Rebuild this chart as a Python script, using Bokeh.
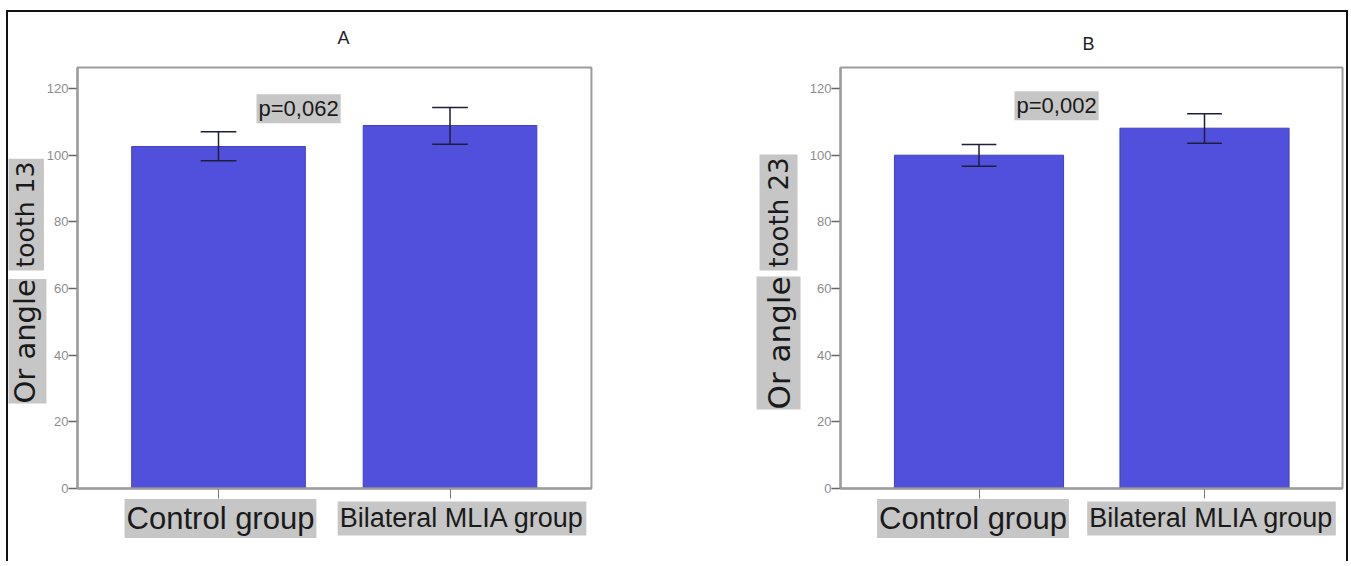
import math
from bokeh.plotting import figure
from bokeh.models import Range1d, FixedTicker, Label, LinearAxis, BoxAnnotation
from bokeh.layouts import row
from bokeh.embed import file_html
from bokeh.resources import INLINE

# ---- data ----
groups = ["Control group", "Bilateral MLIA group"]
panel_titles = ["A", "B"]
mean_13 = [102.6, 108.9]
lower_13 = [98.3, 103.3]
upper_13 = [107.0, 114.3]
mean_23 = [100.0, 108.1]
lower_23 = [96.7, 103.6]
upper_23 = [103.2, 112.4]
p_values = ["p=0,062", "p=0,002"]
y_ticks = [0, 20, 40, 60, 80, 100, 120]
ylab_big = ["Or angle", "Or angle"]
ylab_small = ["tooth 13", "tooth 23"]

BAR = "#5050dc"
BAR_LINE = "#4040c0"
ERR = "#1e1e3a"
GRAY_BOX = "#c6c6c6"
FONT = "Liberation Sans"
YFONT = "DejaVu Sans"
PX_PER_Y = 3.333   # pixels per y unit
Y_ZERO_PX = 476    # zero line, pixels from top of figure
FIG_H = 549


def make_panel(title, means, lows, ups, pval, big, small, cfg):
    xs = list(range(1, len(groups) + 1))
    ppx = cfg["ppx"]
    x0 = 1 - cfg["c1"] / ppx
    x1 = x0 + cfg["w"] / ppx
    y_top = Y_ZERO_PX / PX_PER_Y
    y_bot = -(FIG_H - Y_ZERO_PX) / PX_PER_Y
    p = figure(width=cfg["w"], height=FIG_H, output_backend="svg", toolbar_location=None,
               x_range=Range1d(x0, x1), y_range=Range1d(y_bot, y_top),
               x_axis_location=None, y_axis_location=None,
               min_border=0, min_border_left=0, min_border_right=0,
               min_border_top=0, min_border_bottom=0)
    p.xgrid.visible = False
    p.ygrid.visible = False
    p.outline_line_color = None
    p.background_fill_color = "white"
    p.border_fill_color = "white"

    box_l, box_r, box_t = cfg["box"]
    p.add_layout(BoxAnnotation(left=box_l, right=box_r, bottom=0, top=box_t,
                               fill_alpha=0, line_color="#9c9c9c", line_alpha=1, line_width=2))

    p.vbar(x=xs, top=means, bottom=0, width=0.75, fill_color=BAR, line_color=BAR_LINE, line_width=1)
    p.segment(x0=xs, y0=lows, x1=xs, y1=ups, line_color=ERR, line_width=1.5)
    cw = 0.077
    p.segment(x0=[x - cw for x in xs], y0=ups, x1=[x + cw for x in xs], y1=ups, line_color=ERR, line_width=1.5)
    p.segment(x0=[x - cw for x in xs], y0=lows, x1=[x + cw for x in xs], y1=lows, line_color=ERR, line_width=1.5)

    ya = LinearAxis(fixed_location=box_l, bounds=(0, box_t))
    ya.ticker = FixedTicker(ticks=y_ticks)
    ya.minor_tick_line_color = None
    ya.major_tick_in = 0
    ya.major_tick_out = 9
    ya.axis_line_color = "#808080"
    ya.axis_line_width = 2
    ya.major_tick_line_color = "#666666"
    ya.major_tick_line_width = 1.5
    ya.major_label_text_font = FONT
    ya.major_label_text_font_size = "13px"
    ya.major_label_text_color = "#8c8c8c"
    ya.major_label_standoff = 0
    p.add_layout(ya, "left")

    xa = LinearAxis(fixed_location=0, bounds=(box_l, box_r))
    xa.ticker = FixedTicker(ticks=xs)
    xa.minor_tick_line_color = None
    xa.major_tick_in = 0
    xa.major_tick_out = 10
    xa.axis_line_color = "#808080"
    xa.axis_line_width = 2
    xa.major_tick_line_color = "#777777"
    xa.major_label_overrides = {x: "" for x in xs}
    p.add_layout(xa, "below")

    # panel title
    p.add_layout(Label(x=cfg["tx"], y=cfg["ty"], text=title, text_align="center",
                       text_baseline="middle", text_font=FONT, text_font_size="18px",
                       text_color="#222222"))

    # category labels with grey boxes
    for i, g in enumerate(groups):
        p.add_layout(Label(x=xs[i], y=-9.0, x_offset=cfg["cx"][i], text=g, text_align="center",
                           text_baseline="middle", text_font=FONT,
                           text_font_size=cfg["cfs"][i], text_color="#1a1a1a",
                           background_fill_color=GRAY_BOX, padding=2))

    # p-value label
    p.add_layout(Label(x=cfg["px"], y=cfg["py"], text=pval, text_align="center",
                       text_baseline="middle", text_font=FONT, text_font_size="22px",
                       text_color="#1a1a1a", background_fill_color=GRAY_BOX, padding=2))

    # rotated y label, mixed sizes
    p.add_layout(Label(x=cfg["lx"], y=cfg["ly"], text=big, angle=math.pi / 2, text_align="left",
                       text_baseline="middle", text_font=YFONT, text_font_size=cfg["lfs"][0],
                       text_color="#1a1a1a", background_fill_color=GRAY_BOX, padding=(0, 4)))
    p.add_layout(Label(x=cfg["lx"], y=cfg["ly2"], text=small, angle=math.pi / 2, text_align="left",
                       text_baseline="middle", text_font=YFONT, text_font_size=cfg["lfs"][1],
                       text_color="#1a1a1a", background_fill_color=GRAY_BOX, padding=cfg["lpad"]))
    return p


# c1 = pixel distance from the figure's left edge to the first category centre
cfgA = dict(w=692, ppx=231.5, c1=210, box=(0.391, 2.611, 126.3),
            tx=1.54, ty=135.3, cx=[2, 12], cfs=["31px", "27px"],
            px=1.346, py=113.9, lx=0.166, ly=25.5, ly2=25.5 + 133 / 3.333,
            lfs=["29px", "25px"], lpad=(3, 4))
cfgB = dict(w=646, ppx=225.5, c1=278.5, box=(0.386, 2.612, 126.3),
            tx=1.486, ty=133.5, cx=[-6, 7], cfs=["31px", "27px"],
            px=1.344, py=114.8, lx=0.111, ly=23.7, ly2=23.7 + 139 / 3.333,
            lfs=["31px", "26px"], lpad=(3, 4))

pA = make_panel(panel_titles[0], mean_13, lower_13, upper_13, p_values[0], ylab_big[0], ylab_small[0], cfgA)
pB = make_panel(panel_titles[1], mean_23, lower_23, upper_23, p_values[1], ylab_big[1], ylab_small[1], cfgB)

layout = row(pA, pB, styles={"border-top": "2px solid #111", "border-left": "2px solid #111",
                             "border-right": "2px solid #111",
                             "margin-left": "6px", "margin-top": "10px"})

open("out.html", "w").write(file_html(layout, INLINE))
